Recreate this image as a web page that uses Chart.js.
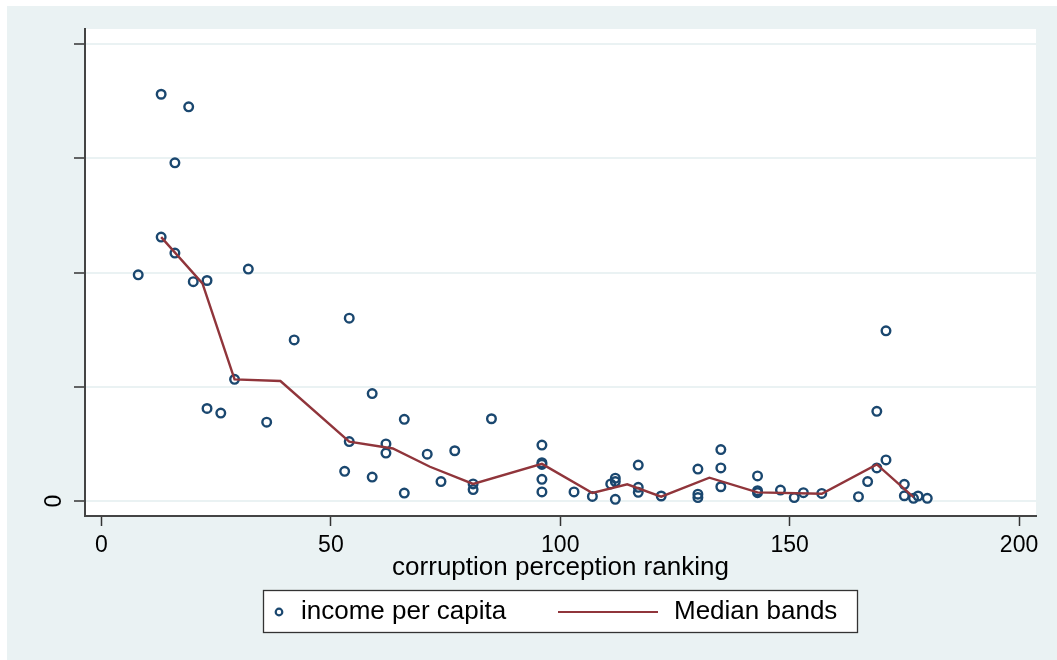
<!DOCTYPE html>
<html>
<head>
<meta charset="utf-8">
<script src="https://cdn.jsdelivr.net/npm/chart.js@4.4.1/dist/chart.umd.min.js"></script>
<style>
  html, body { margin: 0; padding: 0; background: #ffffff; }
  #wrap { width: 1057px; height: 660px; position: relative; }
</style>
</head>
<body>
<div id="wrap"><canvas id="c" width="1057" height="660"></canvas></div>
<script>
// ---- data ----
const rankings = [8,13,19,16,13,16,20,23,32,29,23,26,36,42,54,54,53,59,59,62,62,66,66,71,74,77,81,81,85,96,96,96,96,96,103,107,111,112,112,112,117,117,117,122,130,130,130,135,135,135,143,143,143,148,151,153,157,165,167,169,169,171,171,175,175,177,178,180];
const incomePerCapita = [1.98,3.56,3.45,2.96,2.31,2.17,1.92,1.93,2.03,1.065,0.81,0.77,0.69,1.41,1.60,0.52,0.26,0.94,0.21,0.50,0.42,0.715,0.07,0.41,0.17,0.44,0.15,0.10,0.72,0.49,0.335,0.32,0.19,0.08,0.08,0.04,0.15,0.17,0.20,0.015,0.315,0.12,0.076,0.044,0.28,0.06,0.03,0.45,0.29,0.125,0.22,0.09,0.073,0.096,0.03,0.073,0.067,0.038,0.17,0.785,0.29,1.49,0.36,0.146,0.046,0.024,0.044,0.024];
const medianX = [13,22,29,39,54,63.5,71.6,81,96,107,114.6,122,132.5,143,157,169,177];
const medianY = [2.31,1.905,1.065,1.05,0.52,0.46,0.30,0.15,0.325,0.07,0.146,0.038,0.204,0.076,0.064,0.32,0.035];
const xTicks = [0,50,100,150,200];
const xTickLabels = ['0','50','100','150','200'];
const yTicks = [0,1,2,3,4];
const yTickLabels = ['0','','','',''];
const seriesNames = ['income per capita','Median bands'];
const xTitle = 'corruption perception ranking';

const FONT = '"Liberation Sans", Arial, Helvetica, sans-serif';
const NAVY = '#1a476f';
const MAROON = '#90353b';
const BG = '#eaf2f3';

const scatterData = rankings.map((x, i) => ({x: x, y: incomePerCapita[i]}));
const medianData = medianX.map((x, i) => ({x: x, y: medianY[i]}));

const backgroundPlugin = {
  id: 'stataBackground',
  beforeDraw(chart) {
    const ctx = chart.ctx, a = chart.chartArea;
    ctx.save();
    ctx.fillStyle = BG;
    ctx.fillRect(7, 6, chart.width - 7, chart.height - 6);
    ctx.fillStyle = '#ffffff';
    ctx.fillRect(a.left, a.top, a.right - a.left, a.bottom - a.top);
    ctx.restore();
  }
};

const legendPlugin = {
  id: 'stataLegend',
  afterDraw(chart, args, opts) {
    const ctx = chart.ctx;
    const ds = chart.data.datasets;
    ctx.save();
    ctx.fillStyle = '#ffffff';
    ctx.fillRect(opts.left, opts.top, opts.width, opts.height);
    ctx.strokeStyle = '#333333';
    ctx.lineWidth = 1.3;
    ctx.strokeRect(opts.left + 0.5, opts.top + 0.5, opts.width, opts.height);
    const cy = opts.top + opts.height / 2 + 1;
    // item 1: hollow marker
    ctx.beginPath();
    ctx.arc(opts.markerX, cy, 3.3, 0, Math.PI * 2);
    ctx.strokeStyle = ds[0].borderColor;
    ctx.lineWidth = 2.2;
    ctx.stroke();
    ctx.fillStyle = '#000000';
    ctx.font = opts.fontSize + 'px ' + FONT;
    ctx.textBaseline = 'middle';
    ctx.textAlign = 'left';
    ctx.fillText(ds[0].label, opts.text1X, cy);
    // item 2: line
    ctx.beginPath();
    ctx.moveTo(opts.lineX1, cy);
    ctx.lineTo(opts.lineX2, cy);
    ctx.strokeStyle = ds[1].borderColor;
    ctx.lineWidth = 2.2;
    ctx.stroke();
    ctx.fillText(ds[1].label, opts.text2X, cy);
    ctx.restore();
  }
};

new Chart(document.getElementById('c'), {
  type: 'scatter',
  data: {
    datasets: [
      {
        label: seriesNames[0],
        data: scatterData,
        showLine: false,
        pointStyle: 'circle',
        pointRadius: 4.3,
        pointHoverRadius: 4.3,
        pointBorderWidth: 2.4,
        borderColor: NAVY,
        backgroundColor: 'rgba(255,255,255,0)',
        pointBackgroundColor: 'rgba(255,255,255,0)',
        pointBorderColor: NAVY,
        order: 2
      },
      {
        label: seriesNames[1],
        data: medianData,
        showLine: true,
        pointRadius: 0,
        pointHoverRadius: 0,
        borderColor: MAROON,
        borderWidth: 2.4,
        backgroundColor: MAROON,
        fill: false,
        tension: 0,
        order: 1
      }
    ]
  },
  options: {
    responsive: false,
    animation: false,
    devicePixelRatio: 1,
    layout: { padding: { left: 7, top: 29, right: 21, bottom: 0 } },
    plugins: {
      legend: { display: false },
      tooltip: { enabled: false },
      stataLegend: {
        left: 263, top: 590, width: 594, height: 42,
        markerX: 279, text1X: 301, lineX1: 558, lineX2: 658, text2X: 674,
        fontSize: 26
      }
    },
    scales: {
      x: {
        type: 'linear',
        position: 'bottom',
        min: -3.6,
        max: 203.7,
        afterBuildTicks: (s) => { s.ticks = xTicks.map(v => ({value: v})); },
        afterFit: (s) => { s.height = 144; s.paddingLeft = 0; s.paddingRight = 0; },
        ticks: {
          color: '#000000',
          font: { family: FONT, size: 23 },
          padding: 6,
          maxRotation: 0,
          minRotation: 0,
          callback: (v) => { const i = xTicks.indexOf(v); return i >= 0 ? xTickLabels[i] : ''; }
        },
        grid: {
          drawOnChartArea: false,
          drawTicks: true,
          tickLength: 10,
          tickColor: '#333333',
          tickWidth: 1.5
        },
        border: { display: true, color: '#444444', width: 2 },
        title: {
          display: true,
          text: xTitle,
          color: '#000000',
          font: { family: FONT, size: 26 },
          padding: { top: 0, bottom: 77 }
        }
      },
      y: {
        type: 'linear',
        position: 'left',
        min: -0.131,
        max: 4.131,
        afterBuildTicks: (s) => { s.ticks = yTicks.map(v => ({value: v})); },
        afterFit: (s) => { s.width = 78; s.paddingTop = 0; s.paddingBottom = 0; },
        ticks: {
          color: '#000000',
          font: { family: FONT, size: 23 },
          padding: 13,
          minRotation: 90,
          maxRotation: 90,
          crossAlign: 'center',
          callback: (v) => { const i = yTicks.indexOf(v); return i >= 0 ? yTickLabels[i] : ''; }
        },
        grid: {
          color: BG,
          lineWidth: 2,
          drawTicks: true,
          tickLength: 11,
          tickColor: '#333333',
          tickWidth: 1.5
        },
        border: { display: true, color: '#444444', width: 2 }
      }
    }
  },
  plugins: [backgroundPlugin, legendPlugin]
});
</script>
</body>
</html>
